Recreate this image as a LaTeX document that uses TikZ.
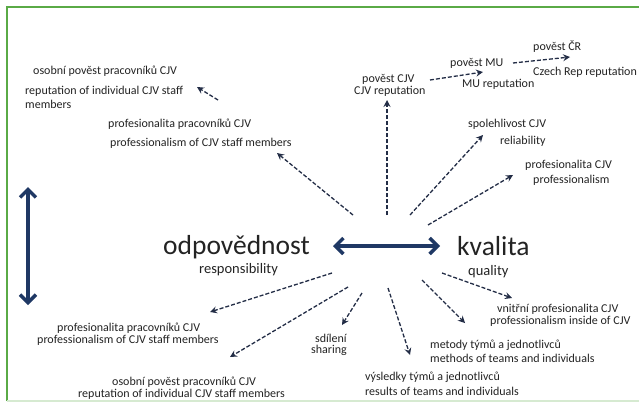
\documentclass[tikz,border=0pt]{standalone}
\usepackage{fontspec}
\setmainfont{Carlito}
\usetikzlibrary{arrows.meta}
\definecolor{navy}{RGB}{31,56,100}
\definecolor{dash}{RGB}{35,45,70}
\definecolor{frame}{RGB}{90,170,70}
\definecolor{txt}{RGB}{35,35,35}
\tikzset{
  lbl/.style={anchor=base west,inner sep=0pt,text=txt,font=\fontsize{12}{14}\selectfont},
  big/.style={anchor=base west,inner sep=0pt,text=txt,font=\fontsize{27.5}{30}\selectfont},
  mid/.style={anchor=base west,inner sep=0pt,text=txt,font=\fontsize{14.5}{16}\selectfont},
  dasharrow/.style={draw=dash,line width=1.3pt,dash pattern=on 4pt off 2pt,-{Stealth[length=7pt,width=7pt,inset=2.5pt]}},
  thickarrow/.style={draw=navy,line width=3.5pt,{Straight Barb[length=8pt,width=16pt]}-{Straight Barb[length=8pt,width=16pt]}}
}
\begin{document}
\begin{tikzpicture}[x=1pt,y=-1pt]
\useasboundingbox (0,0) rectangle (639,405);
\fill[white] (0,0) rectangle (639,405);
% frame
\draw[frame,line width=1.5pt] (7,401) -- (7,7) -- (639,7);
\draw[frame!25,line width=1.5pt] (7,401) -- (639,401);

% upper-left texts
\node[lbl] (t1) at (33,74) {osobní pověst pracovníků CJV};
\node[lbl] (t2) at (25,94) {reputation of individual CJV staff};
\node[lbl] (t3) at (25,108) {members};
\node[lbl] (t4) at (108,127) {profesionalita pracovníků CJV};
\node[lbl] (t5) at (110,146) {professionalism of CJV staff members};
% upper-right texts
\node[lbl] (t6) at (362,82) {pověst CJV};
\node[lbl] (t7) at (354,94) {CJV reputation};
\node[lbl] (t8) at (450,66) {pověst MU};
\node[lbl] (t9) at (462,87) {MU reputation};
\node[lbl] (t10) at (533,50) {pověst ČR};
\node[lbl] (t11) at (533,75) {Czech Rep reputation};
\node[lbl] (t12) at (468,127) {spolehlivost CJV};
\node[lbl] (t13) at (500,144) {reliability};
\node[lbl] (t14) at (525,168) {profesionalita CJV};
\node[lbl] (t15) at (533,183) {professionalism};
% centre
\node[big] (odp) at (163,254) {odpovědnost};
\node[mid] (resp) at (199,273) {responsibility};
\node[big] (kval) at (457,255) {kvalita};
\node[mid] (qual) at (468,275) {quality};
% lower texts
\node[lbl] (b1) at (57,331) {profesionalita pracovníků CJV};
\node[lbl] (b2) at (37,343) {professionalism of CJV staff members};
\node[lbl] (b3) at (112,385) {osobní pověst pracovníků CJV};
\node[lbl] (b4) at (78,397) {reputation of individual CJV staff members};
\node[lbl] (b5) at (315,342) {sdílení};
\node[lbl] (b6) at (311,353) {sharing};
\node[lbl] (b7) at (365,380) {výsledky týmů a jednotlivců};
\node[lbl] (b8) at (365,395) {results of teams and individuals};
\node[lbl] (b9) at (430,348) {metody týmů a jednotlivců};
\node[lbl] (b10) at (430,362) {methods of teams and individuals};
\node[lbl] (b11) at (497,312) {vnitřní profesionalita CJV};
\node[lbl] (b12) at (490,324) {professionalism inside of CJV};

% arrow end points
\coordinate (a1s) at (218,100); \coordinate (a1e) at (197,87);
\coordinate (a2s) at (353,215); \coordinate (a2e) at (277,153);
\coordinate (a3s) at (387,215); \coordinate (a3e) at (387,100);
\coordinate (a4s) at (430,80);  \coordinate (a4e) at (483,72);
\coordinate (a5s) at (513,63);  \coordinate (a5e) at (570,57);
\coordinate (a6s) at (410,215); \coordinate (a6e) at (483,135);
\coordinate (a7s) at (428,225); \coordinate (a7e) at (513,175);
\coordinate (c1s) at (332,273); \coordinate (c1e) at (210,312);
\coordinate (c2s) at (348,287); \coordinate (c2e) at (230,357);
\coordinate (c3s) at (362,293); \coordinate (c3e) at (342,325);
\coordinate (c4s) at (388,288); \coordinate (c4e) at (410,355);
\coordinate (c5s) at (422,280); \coordinate (c5e) at (465,323);
\coordinate (c6s) at (442,273); \coordinate (c6e) at (512,298);
\coordinate (hl) at (333,246); \coordinate (hr) at (440,246);
\coordinate (vt) at (28,187); \coordinate (vb) at (28,305);

\foreach \p in {a1,a2,a3,a4,a5,a6,a7,c1,c2,c3,c4,c5,c6}
  \draw[dasharrow] (\p s) -- (\p e);
\draw[thickarrow] (hl) -- (hr);
\draw[thickarrow] (vt) -- (vb);
\end{tikzpicture}
\end{document}
